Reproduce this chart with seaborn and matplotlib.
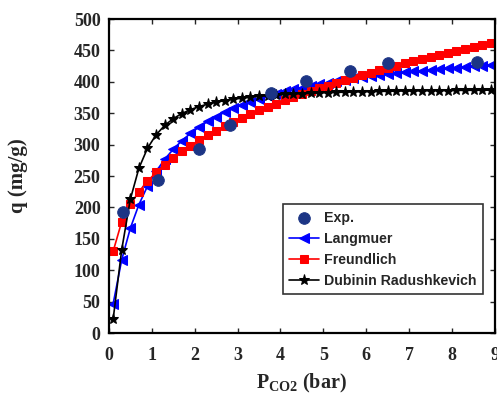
import numpy as np
import pandas as pd
import matplotlib
matplotlib.use('Agg')
import matplotlib.pyplot as plt
import seaborn as sns

# experimental points
p_exp = [0.32, 1.14, 2.10, 2.83, 3.78, 4.59, 5.61, 6.51, 8.58]
q_exp = [192, 243, 293, 332, 382, 401, 417, 430, 432]

p_fit = [0.1, 0.3, 0.5, 0.7, 0.9, 1.1, 1.3, 1.5, 1.7, 1.9, 2.1, 2.3, 2.5, 2.7, 2.9,
         3.1, 3.3, 3.5, 3.7, 3.9, 4.1, 4.3, 4.5, 4.7, 4.9, 5.1, 5.3, 5.5, 5.7, 5.9,
         6.1, 6.3, 6.5, 6.7, 6.9, 7.1, 7.3, 7.5, 7.7, 7.9, 8.1, 8.3, 8.5, 8.7, 8.9]
q_langmuir = [46.6, 116.6, 166.8, 204.5, 233.8, 257.3, 276.6, 292.6, 306.2, 317.9,
              328.0, 336.9, 344.7, 351.6, 357.8, 363.4, 368.5, 373.1, 377.3, 381.2,
              384.7, 388.0, 391.0, 393.8, 396.4, 398.9, 401.2, 403.3, 405.4, 407.3,
              409.0, 410.7, 412.3, 413.8, 415.3, 416.7, 418.0, 419.2, 420.4, 421.5,
              422.6, 423.6, 424.6, 425.5, 426.4]
q_freundlich = [130.1, 177.3, 204.8, 225.2, 241.7, 255.8, 268.1, 279.2, 289.2, 298.4,
                306.9, 314.9, 322.4, 329.5, 336.2, 342.6, 348.7, 354.5, 360.1, 365.5,
                370.7, 375.7, 380.6, 385.2, 389.8, 394.2, 398.5, 402.7, 406.8, 410.8,
                414.6, 418.4, 422.1, 425.7, 429.3, 432.8, 436.2, 439.5, 442.8, 446.0,
                449.1, 452.3, 455.3, 458.3, 461.2]
q_dr = [21.9, 132.8, 212.8, 262.4, 294.2, 315.6, 330.6, 341.4, 349.5, 355.7,
        360.6, 364.5, 367.6, 370.2, 372.3, 374.1, 375.6, 376.9, 378.0, 379.0,
        379.9, 380.6, 381.3, 381.8, 382.4, 382.8, 383.2, 383.6, 383.9, 384.3,
        384.5, 384.8, 385.0, 385.3, 385.5, 385.6, 385.8, 386.0, 386.1, 386.2,
        386.4, 386.5, 386.6, 386.7, 386.8]

sns.set_style('ticks')
plt.rcParams['mathtext.fontset'] = 'custom'
plt.rcParams['mathtext.rm'] = 'Liberation Serif:bold'
plt.rcParams['mathtext.bf'] = 'Liberation Serif:bold'

fig = plt.figure(figsize=(4.97, 3.97), dpi=100)
ax = fig.add_axes([0.219, 0.161, 0.777, 0.791])

sns.lineplot(x=p_fit, y=q_langmuir, ax=ax, color='#0000ff', marker='<', markersize=7,
             markeredgecolor='#0000ff', linewidth=1.2, label='Langmuer')
sns.lineplot(x=p_fit, y=q_freundlich, ax=ax, color='#ff0000', marker='s', markersize=6,
             markeredgecolor='#ff0000', linewidth=1.2, label='Freundlich')
sns.lineplot(x=p_fit, y=q_dr, ax=ax, color='black', marker='*', markersize=8,
             markeredgecolor='black', linewidth=1.2, label='Dubinin Radushkevich')
sns.scatterplot(x=p_exp, y=q_exp, ax=ax, color='#1c3585', s=70, edgecolor='#1c3585',
                label='Exp.', zorder=5)

ax.set_xlim(0, 9)
ax.set_ylim(0, 500)
ax.set_xticks(range(0, 10))
ax.set_yticks(range(0, 501, 50))
ax.tick_params(direction='in', top=True, right=True, length=3.5, width=1)
ax.tick_params(axis='x', pad=10)
ax.tick_params(axis='y', pad=6)
for lab in ax.get_xticklabels() + ax.get_yticklabels():
    lab.set_family('Liberation Serif')
    lab.set_fontweight('bold')
    lab.set_fontsize(13)
for sp in ax.spines.values():
    sp.set_linewidth(1.6)
    sp.set_color('black')

ax.set_xlabel(r'P$_{\rm CO2}$ (bar)', family='Liberation Serif', fontweight='bold',
              fontsize=14.5, labelpad=6)
ax.set_ylabel('q (mg/g)', family='Liberation Serif', fontweight='bold', fontsize=15,
              labelpad=33)

handles, labels = ax.get_legend_handles_labels()
order = [3, 0, 1, 2]
leg = ax.legend([handles[i] for i in order], [labels[i] for i in order],
                loc='lower right', bbox_to_anchor=(0.969, 0.124), borderaxespad=0,
                frameon=True, fancybox=False, edgecolor='black', handlelength=2.1,
                handletextpad=0.35, labelspacing=0.5, borderpad=0.45,
                prop={'family': 'Liberation Sans', 'weight': 'bold', 'size': 10.2})
leg.get_frame().set_linewidth(1.2)

fig.savefig('out.png', dpi=100)
